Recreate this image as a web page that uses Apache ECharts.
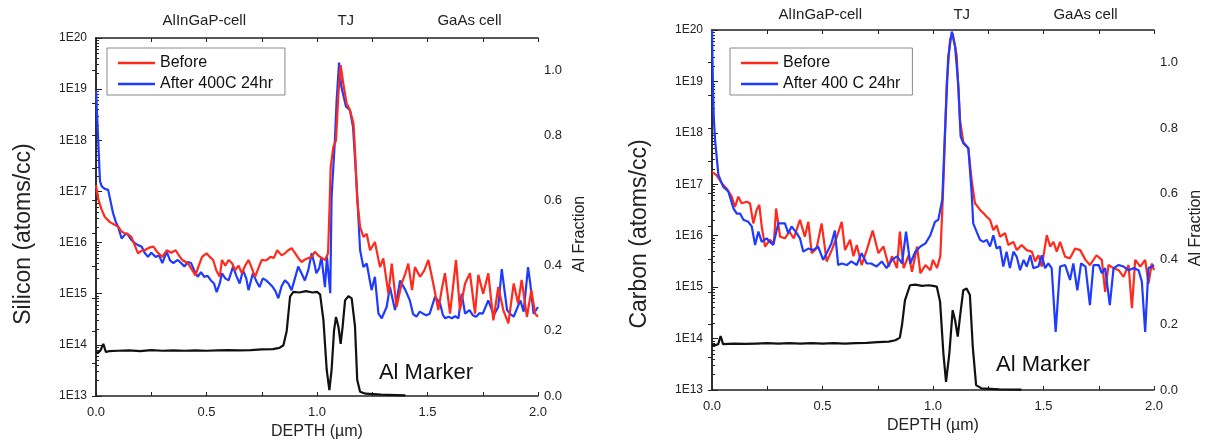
<!DOCTYPE html>
<html><head><meta charset="utf-8">
<script src="https://cdn.jsdelivr.net/npm/echarts@6/dist/echarts.min.js"></script>
<style>html,body{margin:0;padding:0;background:#fff}#c{width:1205px;height:440px}</style>
</head><body><div id="c"></div>
<script>
// ---- data: [depth (µm), log10 concentration (atoms/cc)] ----
const siBefore = [[0,17.12],[0.01,16.85],[0.025,16.65],[0.04,16.5],[0.063,16.4],[0.08,16.36],[0.1,16.31],[0.115,16.22],[0.13,16.18],[0.145,16.16],[0.16,16.11],[0.175,15.95],[0.19,15.79],[0.205,15.84],[0.22,15.85],[0.24,15.9],[0.26,15.92],[0.28,15.8],[0.3,15.72],[0.32,15.85],[0.34,15.8],[0.36,15.85],[0.375,15.75],[0.39,15.66],[0.415,15.6],[0.43,15.5],[0.45,15.36],[0.465,15.55],[0.48,15.72],[0.5,15.79],[0.515,15.72],[0.53,15.66],[0.545,15.45],[0.56,15.33],[0.57,15.66],[0.585,15.55],[0.6,15.66],[0.615,15.6],[0.63,15.46],[0.645,15.55],[0.66,15.4],[0.675,15.55],[0.69,15.66],[0.705,15.5],[0.72,15.33],[0.735,15.5],[0.75,15.66],[0.77,15.65],[0.79,15.72],[0.805,15.7],[0.82,15.85],[0.84,15.75],[0.855,15.79],[0.87,15.85],[0.885,15.89],[0.9,15.8],[0.915,15.7],[0.93,15.62],[0.95,15.68],[0.976,15.72],[0.99,15.82],[1.005,15.75],[1.02,15.7],[1.036,15.66],[1.05,15.79],[1.056,16.58],[1.062,17.48],[1.074,17.87],[1.086,18.0],[1.097,18.92],[1.107,19.47],[1.119,19.11],[1.134,18.72],[1.149,18.59],[1.165,18.33],[1.172,17.8],[1.182,16.83],[1.195,16.31],[1.21,16.11],[1.225,16.17],[1.24,15.85],[1.262,16.01],[1.285,15.52],[1.3,15.69],[1.323,15.0],[1.338,15.59],[1.36,14.74],[1.383,15.2],[1.4,15.4],[1.413,15.59],[1.43,15.07],[1.443,15.52],[1.466,15.33],[1.485,15.45],[1.504,15.66],[1.526,15.2],[1.549,14.68],[1.565,15.1],[1.579,15.4],[1.602,14.61],[1.629,15.66],[1.647,14.68],[1.67,15.2],[1.692,15.4],[1.715,14.61],[1.73,15.37],[1.752,15.0],[1.775,15.4],[1.798,14.48],[1.82,15.13],[1.843,14.68],[1.866,14.42],[1.89,15.2],[1.91,14.81],[1.926,15.27],[1.95,14.55],[1.97,15.07],[1.987,14.61],[2.0,14.55]];
const siAfter = [[0,18.98],[0.005,18.5],[0.01,18.0],[0.018,17.2],[0.026,17.1],[0.04,17.05],[0.055,17.03],[0.063,17.0],[0.077,16.58],[0.09,16.4],[0.1,16.31],[0.116,16.08],[0.13,16.15],[0.14,16.18],[0.16,16.05],[0.176,15.99],[0.19,15.95],[0.207,15.92],[0.22,15.8],[0.235,15.72],[0.25,15.8],[0.27,15.72],[0.285,15.75],[0.3,15.6],[0.32,15.82],[0.335,15.65],[0.35,15.6],[0.37,15.66],[0.385,15.6],[0.4,15.53],[0.415,15.62],[0.43,15.6],[0.445,15.45],[0.46,15.33],[0.475,15.42],[0.49,15.33],[0.505,15.35],[0.52,15.26],[0.534,15.2],[0.546,15.03],[0.56,15.2],[0.57,15.4],[0.585,15.3],[0.6,15.26],[0.62,15.53],[0.635,15.35],[0.65,15.2],[0.665,15.46],[0.68,15.3],[0.69,15.07],[0.71,15.4],[0.725,15.25],[0.74,15.13],[0.755,15.3],[0.77,15.26],[0.785,15.2],[0.8,15.13],[0.812,15.05],[0.825,14.91],[0.84,15.15],[0.855,15.26],[0.87,15.2],[0.885,15.07],[0.9,15.3],[0.915,15.53],[0.93,15.4],[0.945,15.26],[0.96,15.45],[0.976,15.79],[0.99,15.55],[0.997,15.4],[1.01,15.5],[1.02,15.72],[1.036,15.13],[1.045,15.72],[1.06,15.01],[1.066,16.9],[1.075,16.92],[1.081,18.0],[1.089,18.79],[1.1,19.52],[1.11,19.05],[1.131,18.66],[1.149,18.59],[1.163,18.26],[1.18,17.09],[1.195,15.85],[1.21,15.52],[1.225,15.59],[1.247,15.07],[1.262,15.33],[1.278,14.61],[1.293,14.52],[1.315,14.74],[1.33,15.13],[1.353,14.68],[1.376,15.26],[1.4,15.07],[1.42,14.87],[1.435,14.6],[1.45,14.55],[1.465,14.65],[1.48,14.61],[1.495,14.58],[1.51,14.61],[1.534,14.94],[1.557,14.81],[1.57,14.58],[1.58,14.52],[1.595,14.55],[1.61,14.52],[1.625,14.56],[1.64,14.52],[1.655,15.0],[1.67,14.61],[1.69,14.68],[1.705,14.58],[1.72,14.55],[1.735,14.62],[1.75,14.61],[1.775,14.87],[1.8,14.58],[1.82,14.74],[1.836,15.48],[1.86,14.68],[1.875,14.6],[1.89,14.55],[1.92,14.87],[1.935,14.65],[1.955,15.52],[1.965,15.2],[1.98,14.61],[2.0,14.74]];
const cBefore = [[0,17.24],[0.02,17.18],[0.044,17.02],[0.066,16.92],[0.089,16.76],[0.104,16.56],[0.119,16.76],[0.134,16.63],[0.157,16.66],[0.172,16.63],[0.187,16.24],[0.202,16.5],[0.214,16.6],[0.225,16.18],[0.24,15.79],[0.262,15.92],[0.28,15.85],[0.29,16.53],[0.308,15.98],[0.33,15.95],[0.35,16.08],[0.37,15.95],[0.398,16.31],[0.42,15.98],[0.436,16.27],[0.451,15.66],[0.473,15.75],[0.496,16.24],[0.519,15.5],[0.542,15.72],[0.565,15.98],[0.587,16.27],[0.602,15.72],[0.625,15.92],[0.64,15.6],[0.655,15.82],[0.677,15.43],[0.7,15.72],[0.727,16.1],[0.753,15.66],[0.776,15.79],[0.8,15.4],[0.814,15.6],[0.837,15.37],[0.85,16.08],[0.867,15.37],[0.89,15.62],[0.905,15.3],[0.928,15.79],[0.943,15.27],[0.966,15.43],[0.988,15.33],[1.0,15.53],[1.018,15.37],[1.033,15.6],[1.044,16.7],[1.05,17.4],[1.062,18.96],[1.077,19.81],[1.089,19.94],[1.107,19.51],[1.122,18.25],[1.137,17.82],[1.16,17.7],[1.175,17.08],[1.19,16.63],[1.205,16.55],[1.213,16.5],[1.228,16.44],[1.243,16.37],[1.258,16.31],[1.273,16.11],[1.288,16.2],[1.303,15.98],[1.326,16.05],[1.341,15.82],[1.364,15.88],[1.379,15.72],[1.401,15.82],[1.424,15.72],[1.447,15.69],[1.462,15.5],[1.477,15.62],[1.492,15.4],[1.515,16.01],[1.53,15.79],[1.545,15.88],[1.56,15.69],[1.575,15.88],[1.598,15.59],[1.62,15.56],[1.643,15.75],[1.666,15.72],[1.69,15.53],[1.71,15.43],[1.74,15.62],[1.764,15.53],[1.779,14.91],[1.794,15.43],[1.817,15.37],[1.84,15.33],[1.862,15.2],[1.885,15.43],[1.9,14.59],[1.915,15.53],[1.938,15.4],[1.96,15.53],[1.975,15.07],[1.99,15.46],[2.0,15.33]];
const cAfter = [[0,20.0],[0.004,19.0],[0.008,18.3],[0.014,17.86],[0.029,17.18],[0.051,16.95],[0.074,16.86],[0.097,16.53],[0.112,16.43],[0.127,16.43],[0.142,16.31],[0.164,16.27],[0.18,16.18],[0.195,15.82],[0.21,16.08],[0.225,15.88],[0.247,15.95],[0.262,15.88],[0.277,15.82],[0.3,16.24],[0.33,16.24],[0.345,16.05],[0.36,16.18],[0.383,16.05],[0.398,15.95],[0.413,15.69],[0.436,15.75],[0.458,15.72],[0.48,15.79],[0.503,15.53],[0.526,15.72],[0.54,15.85],[0.556,16.1],[0.571,15.43],[0.587,15.46],[0.61,15.43],[0.63,15.5],[0.655,15.43],[0.677,15.66],[0.7,15.46],[0.72,15.46],[0.745,15.4],[0.768,15.5],[0.79,15.37],[0.814,15.53],[0.837,15.6],[0.86,15.46],[0.878,16.08],[0.897,15.46],[0.92,15.69],[0.943,15.79],[0.966,15.85],[0.988,16.01],[1.009,16.27],[1.024,16.31],[1.032,16.31],[1.042,16.7],[1.054,17.99],[1.069,19.48],[1.085,19.97],[1.1,19.68],[1.115,18.9],[1.125,17.93],[1.137,17.8],[1.16,17.7],[1.175,16.82],[1.182,16.24],[1.2,16.05],[1.213,15.92],[1.228,15.88],[1.243,15.92],[1.258,15.79],[1.273,16.01],[1.288,15.75],[1.303,15.79],[1.318,15.4],[1.333,15.69],[1.348,15.37],[1.364,15.69],[1.379,15.59],[1.394,15.33],[1.41,15.53],[1.424,15.4],[1.44,15.62],[1.454,15.37],[1.477,15.4],[1.492,15.62],[1.507,15.37],[1.522,15.46],[1.537,15.37],[1.555,14.13],[1.575,15.4],[1.598,15.43],[1.62,15.14],[1.635,15.46],[1.653,14.94],[1.67,15.46],[1.69,15.4],[1.71,14.65],[1.726,15.43],[1.75,15.43],[1.764,15.27],[1.779,15.37],[1.8,14.65],[1.817,15.37],[1.84,15.43],[1.862,15.4],[1.885,15.33],[1.908,15.37],[1.93,15.33],[1.945,15.11],[1.96,14.13],[1.975,15.37],[1.99,15.4],[2.0,15.43]];
// ---- Al fraction marker: [depth (µm), Al fraction] ----
const alLeft = [[0,0.136],[0.01,0.133],[0.02,0.14],[0.033,0.16],[0.045,0.135],[0.06,0.138],[0.1,0.139],[0.15,0.14],[0.2,0.138],[0.25,0.141],[0.3,0.139],[0.35,0.14],[0.4,0.139],[0.45,0.14],[0.5,0.139],[0.55,0.14],[0.6,0.141],[0.65,0.14],[0.7,0.141],[0.75,0.143],[0.8,0.144],[0.83,0.148],[0.848,0.156],[0.863,0.2],[0.878,0.305],[0.893,0.32],[0.92,0.318],[0.95,0.322],[0.98,0.318],[1.0,0.32],[1.014,0.312],[1.029,0.233],[1.044,0.08],[1.056,0.018],[1.066,0.08],[1.077,0.2],[1.086,0.243],[1.097,0.213],[1.107,0.16],[1.116,0.213],[1.127,0.294],[1.142,0.307],[1.157,0.3],[1.172,0.213],[1.182,0.049],[1.195,0.013],[1.22,0.007],[1.29,0.004],[1.4,0.002]];
const alRight = [[0,0.137],[0.015,0.137],[0.028,0.14],[0.039,0.165],[0.05,0.14],[0.1,0.142],[0.15,0.141],[0.2,0.142],[0.25,0.143],[0.3,0.142],[0.35,0.143],[0.4,0.142],[0.45,0.143],[0.5,0.142],[0.55,0.143],[0.6,0.142],[0.65,0.143],[0.7,0.144],[0.75,0.146],[0.8,0.148],[0.83,0.152],[0.85,0.16],[0.86,0.2],[0.873,0.274],[0.896,0.32],[0.92,0.322],[0.95,0.318],[0.98,0.32],[1.0,0.318],[1.017,0.316],[1.032,0.27],[1.047,0.112],[1.059,0.025],[1.074,0.112],[1.089,0.244],[1.1,0.213],[1.112,0.163],[1.122,0.223],[1.137,0.305],[1.152,0.31],[1.167,0.29],[1.18,0.132],[1.195,0.015],[1.22,0.005],[1.3,0.002],[1.4,0.001]];
// ---- labels ----
const regionNames = ['AlInGaP-cell', 'TJ', 'GaAs cell'];
const regionCenters = [0.49, 1.13, 1.69];
const legendLeft = ['Before', 'After 400C 24hr'];
const legendRight = ['Before', 'After 400 C 24hr'];

const toConc = arr => arr.map(p => [p[0], Math.pow(10, p[1])]);
const FONT = '"Liberation Sans", Arial, sans-serif';
const RED = '#ff2a1c', BLUE = '#1f3bff', BLACK = '#111';
const minorLog = [];
for (let n = 13; n < 20; n++) for (let k = 2; k <= 9; k++) minorLog.push(n + Math.log10(k));

const grids = [
  {left: 96, top: 38, width: 442, height: 358, outerBoundsMode: 'none', containLabel: false},
  {left: 712, top: 30, width: 442, height: 360, outerBoundsMode: 'none', containLabel: false}
];
const axLine = {show: true, lineStyle: {color: '#222', width: 1.5}};
const txt = {color: '#222', fontFamily: FONT};

function xAxes(g) {
  return [
    {type: 'value', gridIndex: g, min: 0, max: 2, interval: 0.25, position: 'bottom',
     axisLine: axLine, axisTick: {inside: true, length: 4, lineStyle: {color: '#222'}},
     splitLine: {show: false},
     axisLabel: Object.assign({fontSize: 13, margin: 10,
       formatter: v => (Math.abs(v * 2 - Math.round(v * 2)) < 1e-6 ? v.toFixed(1) : '')}, txt),
     name: 'DEPTH (µm)', nameLocation: 'middle', nameGap: g === 0 ? 27 : 25,
     nameTextStyle: Object.assign({fontSize: 16}, txt)},
    {type: 'value', gridIndex: g, min: 0, max: 2, interval: 0.25, position: 'top',
     axisLine: axLine, axisTick: {inside: true, length: 4, lineStyle: {color: '#222'}},
     splitLine: {show: false},
     axisLabel: Object.assign({fontSize: 15, margin: g === 0 ? 10 : 8, customValues: regionCenters,
       formatter: v => { const i = regionCenters.findIndex(c => Math.abs(c - v) < 1e-6); return i >= 0 ? regionNames[i] : ''; }}, txt)}
  ];
}
function yAxes(g, name, pad, fpad) {
  return [
    {type: 'log', logBase: 10, gridIndex: g, min: 1e13, max: 1e20, splitNumber: 7, position: 'left',
     axisLine: axLine, axisTick: {inside: true, length: 6, lineStyle: {color: '#222'}},
     splitLine: {show: false},
     axisLabel: Object.assign({fontSize: 12, margin: 9, formatter: v => '1E' + Math.round(Math.log10(v))}, txt),
     name: name, nameLocation: 'middle', nameRotate: 90, nameGap: 61,
     nameTextStyle: Object.assign({fontSize: 23, padding: pad}, txt)},
    {type: 'value', gridIndex: g, min: 0, max: 1.1, interval: 0.1, position: 'right',
     axisLine: axLine, axisTick: {inside: true, length: 4, lineStyle: {color: '#222'}},
     splitLine: {show: false},
     axisLabel: Object.assign({fontSize: 13, margin: 6, showMaxLabel: false,
       formatter: v => (Math.round(v * 10) % 2 === 0 ? v.toFixed(1) : '')}, txt),
     name: 'Al Fraction', nameLocation: 'middle', nameRotate: 90, nameGap: 34,
     nameTextStyle: Object.assign({fontSize: 16, padding: fpad}, txt)},
    {type: 'value', gridIndex: g, min: 13, max: 20, position: 'left',
     axisLine: {show: false}, axisLabel: {show: false}, splitLine: {show: false},
     axisTick: {show: true, inside: true, length: 3, customValues: minorLog, lineStyle: {color: '#222'}}}
  ];
}
function line(name, data, color, xi, yi, z) {
  return {type: 'line', name: name, data: data, xAxisIndex: xi, yAxisIndex: yi, z: z,
    showSymbol: false, symbol: 'none', smooth: false, animation: false,
    lineStyle: {color: color, width: 2.2}, itemStyle: {color: color}};
}
function marker(coord) {
  return {symbol: 'circle', symbolSize: 0, silent: true, animation: false,
    data: [{coord: coord, value: 'Al Marker'}],
    label: {show: true, position: 'inside', formatter: 'Al Marker', fontSize: 22, color: '#111', fontFamily: FONT}};
}
function legend(g, names) {
  const pos = g === 0 ? {left: 107, top: 48} : {left: 730, top: 48};
  return Object.assign({data: names, orient: 'vertical', icon: 'rect', itemWidth: 37, itemHeight: 2.5,
    itemGap: 3, padding: [6, 12, 2, 11], borderColor: '#888', borderWidth: 1, selectedMode: false,
    textStyle: Object.assign({fontSize: 16, lineHeight: 18}, txt, {color: '#111'})}, pos);
}

const chart = echarts.init(document.getElementById('c'), null, {renderer: 'canvas'});
const alL = line('alLeft', alLeft, BLACK, 0, 1, 3); alL.markPoint = marker([1.493, 0.07]);
const alR = line('alRight', alRight, BLACK, 2, 4, 3); alR.markPoint = marker([1.498, 0.076]);
chart.setOption({
  animation: false,
  backgroundColor: '#fff',
  grid: grids,
  xAxis: xAxes(0).concat(xAxes(1)),
  yAxis: yAxes(0, 'Silicon (atoms/cc)', [0, 34, 0, 0], [0, 34, 0, 0]).concat(yAxes(1, 'Carbon (atoms/cc)', [0, 48, 0, 0], [0, 36, 0, 0])),
  legend: [legend(0, legendLeft), legend(1, legendRight)],
  series: [
    line(legendLeft[1], toConc(siAfter), BLUE, 0, 0, 2),
    line(legendLeft[0], toConc(siBefore), RED, 0, 0, 2),
    alL,
    line(legendRight[0], toConc(cBefore), RED, 2, 3, 2),
    line(legendRight[1], toConc(cAfter), BLUE, 2, 3, 2),
    alR
  ]
});
</script></body></html>
